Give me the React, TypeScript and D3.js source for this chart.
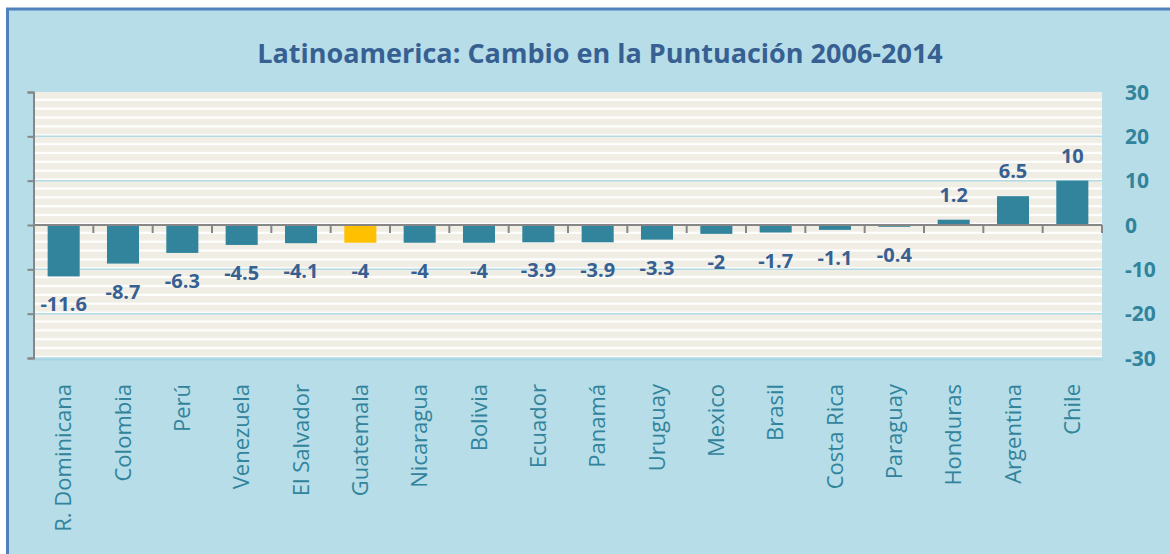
import React, { useEffect, useRef } from 'react'
import * as d3 from 'd3'

const countries = ['R. Dominicana', 'Colombia', 'Perú', 'Venezuela', 'El Salvador', 'Guatemala', 'Nicaragua', 'Bolivia', 'Ecuador', 'Panamá', 'Uruguay', 'Mexico', 'Brasil', 'Costa Rica', 'Paraguay', 'Honduras', 'Argentina', 'Chile']
const changes = [-11.6, -8.7, -6.3, -4.5, -4.1, -4, -4, -4, -3.9, -3.9, -3.3, -2, -1.7, -1.1, -0.4, 1.2, 6.5, 10]
const yTicks = [30, 20, 10, 0, -10, -20, -30]
const highlight = 'Guatemala'
const title = 'Latinoamerica: Cambio en la Puntuación 2006-2014'

export default function App() {
    const ref = useRef<SVGSVGElement>(null)

    let width = 1170, height = 554
    let left = 34, right = 1102, top = 92, bottom = 358

    useEffect(() => {
        const svg = d3.select(ref.current)
        svg.selectAll('*').remove()

        const x = d3.scaleBand().domain(countries).range([left, right]).padding(0)
        const y = d3.scaleLinear().domain([-30, 30]).range([bottom, top])
        const barW = x.bandwidth() * 0.54

        // stripes pattern of the plot area
        const stripe = (y(0) - y(10)) / 5
        const defs = svg.append('defs')
        const pat = defs.append('pattern')
            .attr('id', 'stripes')
            .attr('patternUnits', 'userSpaceOnUse')
            .attr('x', 0).attr('y', top)
            .attr('width', 10).attr('height', stripe)
        pat.append('rect').attr('width', 10).attr('height', stripe).attr('fill', '#EFEDE4')
        pat.append('rect').attr('y', stripe - 2.2).attr('width', 10).attr('height', 2.2).attr('fill', '#FFFFFF')

        // background and frame
        svg.append('rect')
            .attr('x', 7.5).attr('y', 9)
            .attr('width', width).attr('height', height)
            .attr('fill', '#B7DDE8')
            .attr('stroke', '#4F81BD')
            .attr('stroke-width', 3)

        svg.append('text')
            .attr('x', 600).attr('y', 63)
            .attr('text-anchor', 'middle')
            .style('font-family', 'Open Sans')
            .style('font-weight', 'bold')
            .style('font-size', '27px')
            .attr('fill', '#376092')
            .text(title)

        svg.append('rect')
            .attr('x', left).attr('y', top)
            .attr('width', right - left).attr('height', bottom - top)
            .attr('fill', 'url(#stripes)')
        svg.append('line')
            .attr('x1', left).attr('x2', right)
            .attr('y1', bottom + 1.5).attr('y2', bottom + 1.5)
            .attr('stroke', '#A6D3E0').attr('stroke-width', 2)

        // major gridlines
        svg.append('g').selectAll('line')
            .data(yTicks.filter(d => d !== 0 && d !== 30))
            .enter()
            .append('line')
            .attr('x1', left).attr('x2', right)
            .attr('y1', d => y(d)).attr('y2', d => y(d))
            .attr('stroke', '#B2DAE6').attr('stroke-width', 1.5)

        // left axis without labels
        const yAxis = svg.append('g')
            .attr('transform', 'translate(' + (left - 0.5) + ',0)')
            .call(d3.axisLeft(y).tickValues(yTicks).tickSize(6).tickFormat(() => ''))
        yAxis.selectAll('path, line').attr('stroke', '#868686').attr('stroke-width', 2)

        // right labels
        svg.append('g').selectAll('text')
            .data(yTicks)
            .enter()
            .append('text')
            .attr('x', 1125)
            .attr('y', d => y(d))
            .attr('dy', '0.36em')
            .style('font-family', 'Open Sans')
            .style('font-weight', 'bold')
            .style('font-size', '21px')
            .attr('fill', '#31849B')
            .text(d => d)

        // bars
        svg.append('g').selectAll('rect')
            .data(countries)
            .enter()
            .append('rect')
            .attr('x', d => (x(d) as number) + (x.bandwidth() - barW) / 2)
            .attr('width', barW)
            .attr('y', (d, i) => y(Math.max(0, changes[i])))
            .attr('height', (d, i) => Math.abs(y(changes[i]) - y(0)))
            .attr('fill', d => d === highlight ? '#FFC000' : '#31849B')

        // category axis at zero
        const xAxis = svg.append('g')
            .attr('transform', 'translate(0,' + y(0) + ')')
        xAxis.append('line')
            .attr('x1', left - 1).attr('x2', right)
            .attr('stroke', '#868686').attr('stroke-width', 2)
        xAxis.selectAll('.tk')
            .data(countries.map((c, i) => i + 1))
            .enter()
            .append('line')
            .attr('x1', i => left + x.step() * i).attr('x2', i => left + x.step() * i)
            .attr('y1', 0).attr('y2', 8)
            .attr('stroke', '#868686').attr('stroke-width', 2)

        // value labels
        svg.append('g').selectAll('text')
            .data(countries)
            .enter()
            .append('text')
            .attr('x', d => (x(d) as number) + x.bandwidth() / 2)
            .attr('y', (d, i) => changes[i] >= 0 ? y(changes[i]) - 18 : y(changes[i]) + 35)
            .attr('text-anchor', 'middle')
            .style('font-family', 'Open Sans')
            .style('font-weight', 'bold')
            .style('font-size', '20px')
            .attr('fill', '#376092')
            .text((d, i) => changes[i])

        // category labels
        svg.append('g').selectAll('text')
            .data(countries)
            .enter()
            .append('text')
            .attr('transform', d => 'translate(' + ((x(d) as number) + x.bandwidth() / 2) + ',384) rotate(-90)')
            .attr('text-anchor', 'end')
            .attr('dy', '0.35em')
            .style('font-family', 'Open Sans')
            .style('font-size', '22px')
            .attr('fill', '#31849B')
            .text(d => d)
    }, [])

    return (
        <div style={{ position: 'absolute', left: 0, top: 0 }}>
            <svg ref={ref} width={width} height={height} style={{ display: 'block' }}></svg>
        </div>
    )
}
